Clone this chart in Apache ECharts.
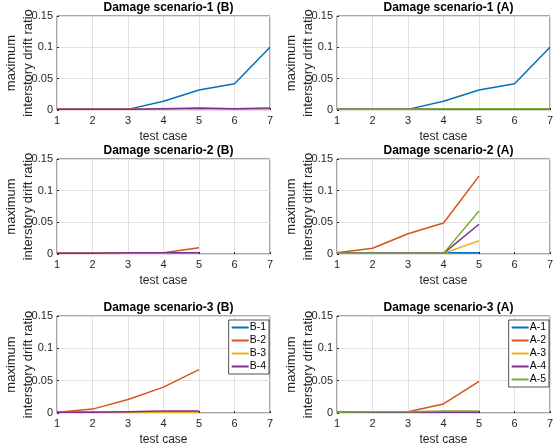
<!DOCTYPE html>
<html>
<head>
<meta charset="utf-8">
<script src="https://cdn.jsdelivr.net/npm/echarts@6/dist/echarts.min.js"></script>
<style>
  html, body { margin: 0; padding: 0; background: #fff; }
  #chart { width: 560px; height: 447px; }
</style>
</head>
<body>
<div id="chart"></div>
<script>
// test cases and tick labels
const testCases = [1, 2, 3, 4, 5, 6, 7]
const yTicks = [0, 0.05, 0.1, 0.15]

// Damage scenario-1 (B)
const s1B1 = [0.001, 0.001, 0.001, 0.014, 0.032, 0.042, 0.1]
const s1B2 = [0.001, 0.001, 0.001, 0.001, 0.001, 0.001, 0.001]
const s1B3 = [0.001, 0.001, 0.001, 0.001, 0.001, 0.001, 0.001]
const s1B4 = [0.001, 0.001, 0.001, 0.002, 0.003, 0.002, 0.003]
// Damage scenario-1 (A)
const s1A1 = [0.001, 0.001, 0.001, 0.014, 0.032, 0.042, 0.1]
const s1A2 = [0.001, 0.001, 0.001, 0.001, 0.001, 0.001, 0.001]
const s1A3 = [0.001, 0.001, 0.001, 0.001, 0.002, 0.001, 0.002]
const s1A4 = [0.001, 0.001, 0.001, 0.001, 0.001, 0.001, 0.001]
const s1A5 = [0.001, 0.001, 0.001, 0.002, 0.002, 0.002, 0.002]
// Damage scenario-2 (B)
const s2B1 = [0.001, 0.001, 0.001, 0.001, 0.001]
const s2B2 = [0.001, 0.001, 0.001, 0.002, 0.01]
const s2B3 = [0.001, 0.001, 0.001, 0.001, 0.001]
const s2B4 = [0.001, 0.001, 0.002, 0.002, 0.002]
// Damage scenario-2 (A)
const s2A1 = [0.002, 0.002, 0.002, 0.002, 0.002]
const s2A2 = [0.002, 0.009, 0.032, 0.049, 0.123]
const s2A3 = [0.001, 0.001, 0.001, 0.001, 0.021]
const s2A4 = [0.001, 0.001, 0.001, 0.001, 0.047]
const s2A5 = [0.001, 0.001, 0.001, 0.001, 0.068]
// Damage scenario-3 (B)
const s3B1 = [0.001, 0.001, 0.001, 0.001, 0.001]
const s3B2 = [0.001, 0.006, 0.021, 0.04, 0.067]
const s3B3 = [0.001, 0.001, 0.001, 0.001, 0.001]
const s3B4 = [0.001, 0.001, 0.002, 0.003, 0.003]
// Damage scenario-3 (A)
const s3A1 = [0.001, 0.001, 0.001, 0.001, 0.001]
const s3A2 = [0.001, 0.001, 0.002, 0.014, 0.049]
const s3A3 = [0.001, 0.001, 0.001, 0.001, 0.001]
const s3A4 = [0.001, 0.001, 0.001, 0.001, 0.001]
const s3A5 = [0.001, 0.002, 0.002, 0.003, 0.003]

const bNames = ['B-1', 'B-2', 'B-3', 'B-4']
const aNames = ['A-1', 'A-2', 'A-3', 'A-4', 'A-5']
const colors = ['#0072BD', '#D95319', '#EDB120', '#7E2F8E', '#77AC30']

const panels = [
  { title: 'Damage scenario-1 (B)', names: bNames, data: [s1B1, s1B2, s1B3, s1B4] },
  { title: 'Damage scenario-1 (A)', names: aNames, data: [s1A1, s1A2, s1A3, s1A4, s1A5] },
  { title: 'Damage scenario-2 (B)', names: bNames, data: [s2B1, s2B2, s2B3, s2B4] },
  { title: 'Damage scenario-2 (A)', names: aNames, data: [s2A1, s2A2, s2A3, s2A4, s2A5] },
  { title: 'Damage scenario-3 (B)', names: bNames, data: [s3B1, s3B2, s3B3, s3B4], legend: true },
  { title: 'Damage scenario-3 (A)', names: aNames, data: [s3A1, s3A2, s3A3, s3A4, s3A5], legend: true }
]

const font = 'Liberation Sans, Arial, sans-serif'
const lefts = [57, 337]
const tops = [16, 159, 316]
const heights = [94, 95, 97]
const plotW = 213

const chart = echarts.init(document.getElementById('chart'))

const grid = []
const xAxis = []
const yAxis = []
const title = []
const series = []
const legend = []

panels.forEach((p, i) => {
  const col = i % 2
  const row = Math.floor(i / 2)
  grid.push({
    left: lefts[col], top: tops[row], width: plotW, height: heights[row],
    outerBoundsMode: 'none', containLabel: false,
    show: true, borderColor: '#262626', borderWidth: 0.8, backgroundColor: '#fff'
  })
  title.push({
    text: p.title,
    left: lefts[col] + plotW / 2,
    top: tops[row] - 19,
    textAlign: 'center',
    textStyle: { fontFamily: font, fontSize: 12, fontWeight: 'bold', color: '#000' }
  })
  xAxis.push({
    type: 'value', gridIndex: i, min: 1, max: 7, interval: 1,
    name: 'test case', nameLocation: 'middle', nameGap: 21,
    nameTextStyle: { fontFamily: font, fontSize: 12, color: '#262626' },
    axisLine: { show: false },
    axisTick: { show: true, inside: true, length: 2, lineStyle: { color: '#262626' } },
    axisLabel: { fontFamily: font, fontSize: 11, color: '#262626', margin: 5 },
    splitLine: { show: true, lineStyle: { color: '#e0e0e0', width: 1 } }
  })
  yAxis.push({
    type: 'value', gridIndex: i, min: yTicks[0], max: yTicks[yTicks.length - 1], interval: 0.05,
    name: 'maximum\ninterstory drift ratio', nameLocation: 'middle', nameGap: 20,
    nameMoveOverlap: false,
    nameTextStyle: { fontFamily: font, fontSize: 13, color: '#262626', lineHeight: 17 },
    axisLine: { show: false },
    axisTick: { show: true, inside: true, length: 2, lineStyle: { color: '#262626' } },
    axisLabel: { fontFamily: font, fontSize: 11, color: '#262626', margin: 4 },
    splitLine: { show: true, lineStyle: { color: '#e0e0e0', width: 1 } }
  })
  p.data.forEach((vals, k) => {
    series.push({
      name: p.names[k],
      type: 'line',
      xAxisIndex: i, yAxisIndex: i,
      data: vals.map((v, j) => [testCases[j], v]),
      symbol: 'none',
      lineStyle: { width: 1.5, color: colors[k] },
      itemStyle: { color: colors[k] },
      animation: false
    })
  })
  if (p.legend) {
    legend.push({
      data: p.names,
      orient: 'vertical',
      right: 560 - (lefts[col] + plotW) + 1,
      top: tops[row] + 4,
      backgroundColor: '#fff',
      borderColor: '#262626',
      borderWidth: 0.8,
      borderRadius: 0,
      padding: [2, 3, 2, 3],
      itemGap: 2,
      itemWidth: 17,
      itemHeight: 2,
      icon: 'rect',
      textStyle: { fontFamily: font, fontSize: 10.5, color: '#000', padding: [0, 0, 0, -4] }
    })
  }
})

chart.setOption({
  animation: false,
  title, grid, xAxis, yAxis, legend, series
})
</script>
</body>
</html>
